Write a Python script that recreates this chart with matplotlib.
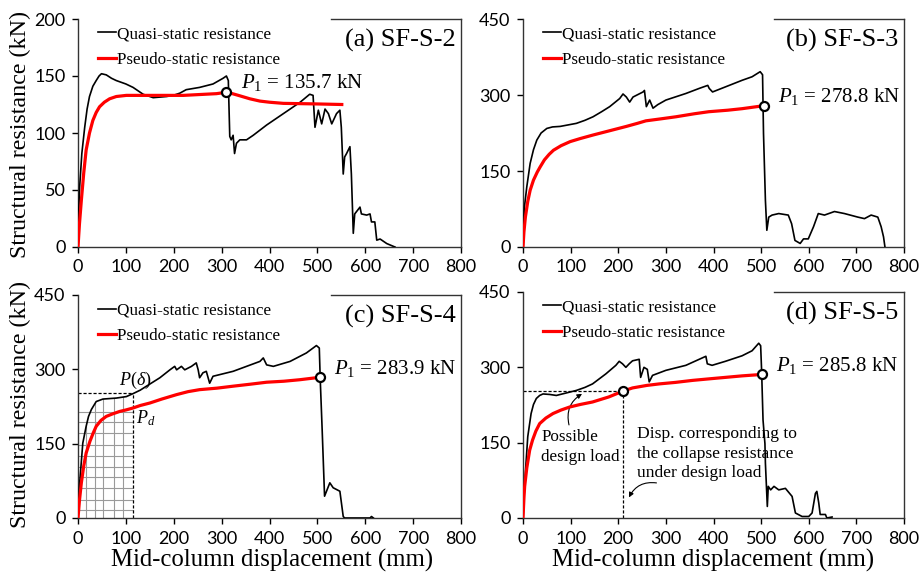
import numpy as np
import matplotlib.pyplot as plt
from matplotlib.lines import Line2D

plt.rcParams['mathtext.fontset'] = 'custom'
plt.rcParams['mathtext.rm'] = 'Liberation Serif'
plt.rcParams['mathtext.it'] = 'Liberation Serif:italic'

SERIF = 'Liberation Serif'
TICK_FONT = 'Lato'

# (a) SF-S-2
QUASI_A_X = [0, 1, 3.5, 8, 14, 19, 24, 31, 38, 44, 49, 59, 70, 80, 100, 115, 136, 157, 185, 199, 213, 226,
             254, 282, 303, 310, 314, 315, 317, 320, 324, 327, 331, 338, 352, 366, 394, 429, 464, 484,
             491, 495, 502, 509, 516, 523, 530, 540, 547, 550, 554, 557, 561, 568, 571, 575, 578, 589,
             592, 603, 610, 613, 620, 624, 631, 645, 662]
QUASI_A_Y = [0, 26, 53, 82, 105, 121, 132, 141, 146, 150, 152, 151, 148, 146, 143, 140, 134, 131, 132, 133,
             135, 138, 140, 143, 148, 150, 146, 129, 97, 94, 98, 82, 91, 94, 94, 98, 107, 117, 127, 134,
             133, 105, 120, 108, 121, 117, 108, 117, 120, 105, 64, 79, 82, 88, 64, 12, 29, 35,
             29, 28, 29, 22, 22, 6, 7, 3, 0]
PSEUDO_A_X = [0, 3, 7, 12, 17, 24, 31, 38, 45, 55, 66, 80, 101, 150, 220, 289, 310, 320, 335, 359, 380,
              400, 429, 498, 551]
PSEUDO_A_Y = [0, 20, 41, 65, 85, 100, 111, 118, 123, 127, 130, 132, 133, 133, 133, 134.5, 135.7, 134.8,
              133, 130, 128, 127, 126, 125.5, 125]

# (b) SF-S-3
QUASI_B_X = [0, 3, 8, 15, 22, 29, 38, 50, 62, 78, 95, 112, 130, 147, 165, 182, 203, 210, 217, 224, 231,
             252, 255, 259, 266, 273, 283, 300, 342, 370, 388, 391, 398, 425, 460, 481, 498, 503, 505,
             509, 512, 516, 523, 537, 557, 564, 571, 582, 589, 599, 610, 620, 633, 654, 675, 703, 717,
             731, 745, 752, 757, 760]
QUASI_B_Y = [0, 79, 119, 165, 192, 211, 225, 234, 237, 238, 241, 244, 250, 257, 267, 277, 293, 302, 296,
             286, 296, 306, 309, 277, 290, 274, 281, 290, 303, 313, 319, 313, 306, 316, 329, 336, 346,
             340, 224, 92, 33, 59, 63, 66, 63, 46, 13, 7, 16, 16, 40, 66, 63, 70, 66, 59, 56, 63, 59,
             40, 20, 0]
PSEUDO_B_X = [0, 2, 5, 10, 15, 22, 30, 36, 45, 55, 64, 80, 99, 120, 147, 180, 217, 240, 258, 290, 321,
              360, 390, 430, 460, 505]
PSEUDO_B_Y = [0, 30, 59, 90, 112, 132, 148, 158, 172, 183, 191, 200, 208, 214, 221, 229, 238, 244, 249,
              253, 257, 263, 267, 270, 273, 278.8]

# (c) SF-S-4
QUASI_C_X = [0, 3.5, 10, 17, 22, 28, 38, 52, 80, 101, 115, 130, 143, 171, 192, 202, 206, 216, 223, 237,
             247, 251, 254, 261, 268, 275, 282, 324, 380, 387, 394, 408, 443, 477, 498, 504, 506, 510,
             515, 526, 533, 547, 554, 557, 610, 613, 617]
QUASI_C_Y = [0, 71, 151, 185, 205, 219, 235, 240, 242, 245, 251, 258, 266, 283, 299, 306, 299, 306, 299,
             306, 313, 299, 283, 293, 296, 272, 286, 296, 316, 323, 309, 306, 316, 333, 348, 343, 279,
             178, 44, 71, 61, 54, 3, 0, 0, 3, 0]
PSEUDO_C_X = [0, 3, 7, 12, 17, 25, 32, 38, 48, 59, 72, 87, 100, 115, 130, 150, 175, 206, 230, 254, 290,
              324, 360, 394, 430, 463, 505]
PSEUDO_C_Y = [0, 35, 71, 105, 131, 155, 172, 185, 197, 205, 210, 215, 218, 222, 227, 232, 240, 249, 255,
              259, 262, 266, 270, 274, 276, 279, 283.9]

# (d) SF-S-5
QUASI_D_X = [0, 3.5, 10, 17, 22, 28, 35, 42, 56, 70, 91, 112, 130, 146, 174, 195, 202, 209, 216, 223,
             230, 244, 247, 254, 261, 265, 272, 300, 342, 377, 384, 387, 397, 425, 460, 481, 495, 499,
             501, 504, 508, 509, 513, 515, 520, 527, 537, 551, 565, 572, 586, 600, 607, 614, 617, 621,
             624, 635, 638, 649]
QUASI_D_Y = [0, 69, 162, 208, 226, 238, 244, 247, 246, 244, 249, 254, 260, 267, 287, 304, 312, 307, 300,
             307, 313, 316, 280, 300, 296, 271, 284, 294, 304, 319, 322, 307, 304, 312, 323, 333, 348,
             343, 294, 195, 148, 109, 23, 63, 56, 63, 56, 59, 43, 10, 3, 3, 10, 49, 53, 30, 7, 7, 0, 2]
PSEUDO_D_X = [0, 2, 3.5, 8, 14, 20, 27, 35, 48, 63, 80, 98, 120, 146, 180, 211, 230, 260, 286, 320, 356,
              390, 425, 460, 501]
PSEUDO_D_Y = [0, 40, 63, 100, 135, 155, 173, 188, 199, 208, 215, 221, 226, 231, 241, 253, 259, 264, 267,
              270, 274, 277, 280, 283, 285.8]

TAGS = ['(a) SF-S-2', '(b) SF-S-3', '(c) SF-S-4', '(d) SF-S-5']
P1_X = [310, 505, 505, 501]
P1_Y = [135.7, 278.8, 283.9, 285.8]
Y_MAX = [200, 450, 450, 450]
Y_STEP = [50, 150, 150, 150]

# design-load construction in (c) and (d)
DESIGN_C = (115, 252)
DESIGN_D = (211, 252)
HATCH_X = [17, 35, 52, 75, 94]
HATCH_Y = [16, 36, 60, 83, 103, 125, 147, 172, 194, 214]

W, H = 921, 575
fig = plt.figure(figsize=(W / 100, H / 100), dpi=100)


def add_axes_px(left, top, right, bottom):
    return fig.add_axes([left / W, 1 - bottom / H, (right - left) / W, (bottom - top) / H])


axes = [add_axes_px(78, 19, 461, 247), add_axes_px(523, 19, 904, 247),
        add_axes_px(78, 295, 461, 518), add_axes_px(523, 292, 904, 518)]

series = [(QUASI_A_X, QUASI_A_Y, PSEUDO_A_X, PSEUDO_A_Y),
          (QUASI_B_X, QUASI_B_Y, PSEUDO_B_X, PSEUDO_B_Y),
          (QUASI_C_X, QUASI_C_Y, PSEUDO_C_X, PSEUDO_C_Y),
          (QUASI_D_X, QUASI_D_Y, PSEUDO_D_X, PSEUDO_D_Y)]

for i, ax in enumerate(axes):
    qx, qy, px, py = series[i]
    ax.plot(qx, qy, color='black', lw=1.2, label='Quasi-static resistance', zorder=3)
    ax.plot(px, py, color='red', lw=2.3, label='Pseudo-static resistance', zorder=4)
    ax.plot([P1_X[i]], [P1_Y[i]], 'o', mfc='white', mec='black', ms=6.5, mew=1.6, zorder=6)
    ax.text(P1_X[i] + 30, P1_Y[i] + (9 if i == 0 else 18),
            r'$P_1$' + ' = {:.1f} kN'.format(P1_Y[i]),
            fontsize=15, family=SERIF, va='center', ha='left')

    ax.set_xlim(0, 800)
    ax.set_ylim(0, Y_MAX[i])
    ax.set_xticks(np.arange(0, 801, 100))
    ax.set_yticks(np.arange(0, Y_MAX[i] + 1, Y_STEP[i]))
    ax.tick_params(direction='out', length=4, width=1, pad=5, labelsize=13, colors='black')
    for lab in ax.get_xticklabels() + ax.get_yticklabels():
        lab.set_family(TICK_FONT)
    for s in ['left', 'bottom', 'right']:
        ax.spines[s].set_linewidth(1.0)
        ax.spines[s].set_color('#333333')
    ax.spines['top'].set_visible(False)
    ax.add_line(Line2D([0.66, 1.0], [1.0, 1.0], transform=ax.transAxes, color='#333333',
                       lw=1.0, clip_on=False))

    ax.text(0.985, 0.905, TAGS[i], transform=ax.transAxes, fontsize=19, family=SERIF,
            ha='right', va='center')

    leg = ax.legend(loc='upper left', bbox_to_anchor=(0.02, 1.02), frameon=False,
                    prop={'family': SERIF, 'size': 12.3}, handlelength=1.1,
                    handletextpad=0.05, labelspacing=0.55, borderaxespad=0.3)

# (c) design-load sketch with hatched area
axc = axes[2]
dx, dy = DESIGN_C
axc.plot([0, dx], [dy, dy], color='black', lw=0.9, ls=(0, (2.5, 1.5)), zorder=2)
axc.plot([dx, dx], [0, dy], color='black', lw=0.9, ls=(0, (2.5, 1.5)), zorder=2)
clip_poly = axc.fill_between(QUASI_C_X, QUASI_C_Y, 0, color='none', lw=0)
for gx in HATCH_X:
    ln, = axc.plot([gx, gx], [0, dy], color='#9a9a9a', lw=0.8, zorder=1)
    ln.set_clip_path(clip_poly.get_paths()[0], transform=axc.transData)
for gy in HATCH_Y:
    axc.plot([0, dx], [gy, gy], color='#9a9a9a', lw=0.8, zorder=1)
axc.text(85, 278, r'$P(\delta)$', fontsize=13, family=SERIF, ha='left', va='center')
axc.text(121, 201, r'$P_d$', fontsize=13, family=SERIF, ha='left', va='center')

# (d) design-load sketch
axd = axes[3]
dx, dy = DESIGN_D
axd.plot([0, dx], [dy, dy], color='black', lw=0.9, ls=(0, (2.5, 1.5)), zorder=2)
axd.plot([dx, dx], [0, dy], color='black', lw=0.9, ls=(0, (2.5, 1.5)), zorder=2)
axd.plot([dx], [dy], 'o', mfc='white', mec='black', ms=6.5, mew=1.6, zorder=6)
axd.text(38, 141, 'Possible\ndesign load', fontsize=12.3, family=SERIF, ha='left', va='center',
         linespacing=1.3)
axd.annotate('', xy=(129, 250), xytext=(98, 180),
             arrowprops=dict(arrowstyle='-|>', color='black', lw=0.8, mutation_scale=7,
                             connectionstyle='arc3,rad=-0.4'))
axd.text(239, 128, 'Disp. corresponding to\nthe collapse resistance\nunder design load',
         fontsize=12.6, family=SERIF, ha='left', va='center', linespacing=1.3)
axd.annotate('', xy=(220, 36), xytext=(286, 69),
             arrowprops=dict(arrowstyle='-|>', color='black', lw=0.8, mutation_scale=7,
                             connectionstyle='arc3,rad=0.4'))

# axis titles
fig.text(20 / W, 1 - 134 / H, 'Structural resistance (kN)', rotation=90, fontsize=17.3,
         family=SERIF, ha='center', va='center')
fig.text(20 / W, 1 - 405 / H, 'Structural resistance (kN)', rotation=90, fontsize=17.3,
         family=SERIF, ha='center', va='center')
fig.text(272 / W, 1 - 560 / H, 'Mid-column displacement (mm)', fontsize=17.8, family=SERIF,
         ha='center', va='center')
fig.text(713 / W, 1 - 560 / H, 'Mid-column displacement (mm)', fontsize=17.8, family=SERIF,
         ha='center', va='center')

fig.savefig('out.png', dpi=100)
